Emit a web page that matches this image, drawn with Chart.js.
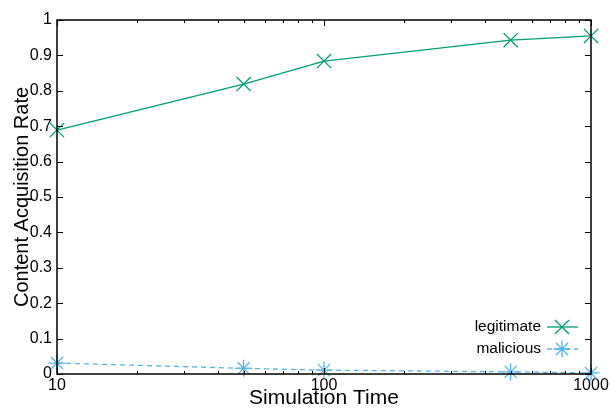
<!DOCTYPE html>
<html>
<head>
<meta charset="utf-8">
<script src="https://cdn.jsdelivr.net/npm/chart.js@4/dist/chart.umd.min.js"></script>
<style>
html,body{margin:0;padding:0;background:#fff;}
#wrap{width:612px;height:409px;position:relative;}
</style>
</head>
<body>
<div id="wrap"><canvas id="c" width="612" height="409"></canvas></div>
<script>
const simTimes = [10, 50, 100, 500, 1000];
const legitimate = [0.689, 0.819, 0.884, 0.943, 0.955];
const malicious = [0.031, 0.016, 0.011, 0.006, 0.003];
const seriesNames = ['legitimate', 'malicious'];
const xTickLabels = [10, 100, 1000];
const yTicks = [0, 0.1, 0.2, 0.3, 0.4, 0.5, 0.6, 0.7, 0.8, 0.9, 1];

const GREEN = '#009e73';
const BLUE = '#56b4e9';
const FONT = "'Liberation Sans', Arial, Helvetica, sans-serif";

const frame = {
  id: 'frame',
  afterDatasetsDraw(chart) {
    const {ctx, chartArea: a, scales} = chart;
    ctx.save();
    ctx.strokeStyle = '#000';
    ctx.lineWidth = 1;
    ctx.beginPath();
    yTicks.forEach(v => {
      const y = Math.round(scales.y.getPixelForValue(v)) + 0.5;
      ctx.moveTo(a.left, y); ctx.lineTo(a.left + 6, y);
      ctx.moveTo(a.right, y); ctx.lineTo(a.right - 6, y);
    });
    for (let dec = 10; dec <= 1000; dec *= 10) {
      for (let m = 1; m <= 9; m++) {
        const v = dec * m;
        if (v > 1000) break;
        const x = Math.round(scales.x.getPixelForValue(v)) + 0.5;
        const len = m === 1 ? 6 : 3;
        ctx.moveTo(x, a.bottom); ctx.lineTo(x, a.bottom - len);
        ctx.moveTo(x, a.top); ctx.lineTo(x, a.top + len);
      }
    }
    ctx.stroke();
    ctx.lineWidth = 1.5;
    ctx.strokeRect(a.left, a.top, a.right - a.left, a.bottom - a.top);
    ctx.restore();
  },
  afterDraw(chart) {
    const {ctx} = chart;
    ctx.save();
    ctx.font = '15.5px ' + FONT;
    ctx.fillStyle = '#000';
    ctx.textAlign = 'right';
    ctx.textBaseline = 'middle';
    const textRight = 541;
    const x0 = 547, x1 = 578, xm = 562;
    const rows = [327, 349];
    chart.data.datasets.forEach((ds, i) => {
      const y = rows[i];
      ctx.fillText(seriesNames[i], textRight, y);
      ctx.strokeStyle = ds.borderColor;
      ctx.lineWidth = ds.borderWidth;
      ctx.setLineDash(ds.borderDash || []);
      ctx.beginPath(); ctx.moveTo(x0, y); ctx.lineTo(x1, y); ctx.stroke();
      ctx.setLineDash([]);
      Chart.helpers.drawPoint(ctx, {
        pointStyle: ds.pointStyle, radius: ds.pointRadius, rotation: 0,
        borderWidth: ds.pointBorderWidth
      }, xm, y);
    });
    ctx.restore();
  }
};

new Chart(document.getElementById('c'), {
  type: 'line',
  data: {
    datasets: [
      {
        label: seriesNames[0],
        data: simTimes.map((t, i) => ({x: t, y: legitimate[i]})),
        borderColor: GREEN, backgroundColor: GREEN,
        borderWidth: 1.3,
        pointStyle: 'crossRot', pointRadius: 10, pointBorderWidth: 1.3,
        pointBorderColor: GREEN,
        clip: false, tension: 0
      },
      {
        label: seriesNames[1],
        data: simTimes.map((t, i) => ({x: t, y: malicious[i]})),
        borderColor: BLUE, backgroundColor: BLUE,
        borderWidth: 1.3, borderDash: [5, 4],
        pointStyle: 'star', pointRadius: 8.5, pointBorderWidth: 1.3,
        pointBorderColor: BLUE,
        clip: false, tension: 0
      }
    ]
  },
  options: {
    responsive: false,
    animation: false,
    events: [],
    layout: {padding: {top: 20, right: 21, left: 0, bottom: 0}},
    plugins: {legend: {display: false}, tooltip: {enabled: false}},
    scales: {
      x: {
        type: 'logarithmic', min: 10, max: 1000,
        grid: {display: false, drawTicks: false},
        border: {display: false},
        ticks: {
          autoSkip: false, maxRotation: 0, padding: 2,
          color: '#000', font: {family: FONT, size: 16},
          callback: v => xTickLabels.includes(v) ? String(v) : ''
        },
        title: {
          display: true, text: 'Simulation Time', color: '#000',
          font: {family: FONT, size: 21, lineHeight: 1.0},
          padding: {top: 0, bottom: 0}
        },
        afterFit: s => { s.height = 35; }
      },
      y: {
        type: 'linear', min: 0, max: 1,
        grid: {display: false, drawTicks: false},
        border: {display: false},
        afterBuildTicks: s => { s.ticks = yTicks.map(v => ({value: v})); },
        ticks: {
          padding: 5, color: '#000', font: {family: FONT, size: 16},
          callback: v => String(v)
        },
        title: {
          display: true, text: 'Content Acquisition Rate', color: '#000',
          font: {family: FONT, size: 20, lineHeight: 1.0},
          padding: {top: 12, bottom: 0}
        },
        afterFit: s => { s.width = 57; }
      }
    }
  },
  plugins: [frame]
});
</script>
</body>
</html>
